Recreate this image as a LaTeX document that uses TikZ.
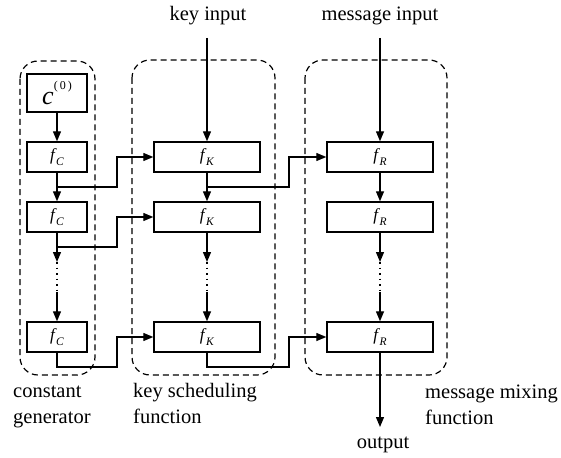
\documentclass[tikz,border=0pt]{standalone}
\usepackage{fontspec}
\setmainfont{Liberation Serif}
\usetikzlibrary{arrows.meta}
\newcommand{\fsub}[1]{\textit{f}\kern-0.5pt\raisebox{-0.28em}{\fontsize{11.5}{12}\selectfont\textit{#1}}}
\begin{document}
\begin{tikzpicture}[x=1pt,y=-1pt,
 blk/.style={draw,line width=1.4pt,minimum width=60pt,minimum height=30pt,inner sep=0pt,font=\fontsize{17}{19}\selectfont},
 wblk/.style={blk,minimum width=106pt},
 grp/.style={draw,dash pattern=on 6pt off 4pt,line width=1.2pt,rounded corners=18pt},
 arr/.style={line width=1.3pt,-{Triangle[length=10pt,width=8pt]}},
 dotl/.style={line width=1.3pt,dash pattern=on 1.5pt off 4pt},
 lbl/.style={font=\fontsize{20.5}{25.5}\selectfont,inner sep=0pt}]
\useasboundingbox (0,0) rectangle (561,457);
% groups
\draw[grp] (20,61) rectangle (95,375);
\draw[grp] (132,60) rectangle (275,375);
\draw[grp] (305,60) rectangle (447,375);
% blocks
\node[blk,minimum height=38pt] (c0) at (57,93) {\fontsize{26}{28}\selectfont\textit{c}\raisebox{0.55em}{\fontsize{12}{13}\selectfont(\,0\,)}};
\node[blk] (fC1) at (57,157) {\fsub{C}};
\node[blk] (fC2) at (57,217) {\fsub{C}};
\node[blk] (fC3) at (57,337) {\fsub{C}};
\node[wblk] (fK1) at (207,157) {\fsub{K}};
\node[wblk] (fK2) at (207,217) {\fsub{K}};
\node[wblk] (fK3) at (207,337) {\fsub{K}};
\node[wblk] (fR1) at (380,157) {\fsub{R}};
\node[wblk] (fR2) at (380,217) {\fsub{R}};
\node[wblk] (fR3) at (380,337) {\fsub{R}};
% inputs and outputs
\node[lbl,anchor=base] (kin) at (208,21) {key input};
\node[lbl,anchor=base] (min) at (380,21) {message input};
\node[lbl,anchor=base] (out) at (383,448) {output};
\coordinate (kins) at (207,38);
\coordinate (mins) at (380,38);
\coordinate (outs) at (380,427);
% group labels
\node[lbl,anchor=base west,align=left] (lc) at (13,423) {constant\\generator};
\node[lbl,anchor=base west,align=left] (lk) at (133,423) {key scheduling\\function};
\node[lbl,anchor=base west,align=left] (lm) at (425,424) {message mixing\\function};
% junction coordinates
\coordinate (j1) at (117,187);
\coordinate (j2) at (117,247);
\coordinate (j3) at (117,367);
\coordinate (k1) at (289,187);
\coordinate (k3) at (289,367);
\coordinate (dCa) at (57,262);
\coordinate (dCb) at (57,292);
\coordinate (dKa) at (207,262);
\coordinate (dKb) at (207,292);
\coordinate (dRa) at (380,262);
\coordinate (dRb) at (380,292);
% vertical flows
\draw[arr] (c0) -- (fC1);
\draw[arr] (fC1) -- (fC2);
\draw[arr] (fC2.south) -- (dCa);
\draw[dotl] (dCa) -- (dCb);
\draw[arr] (dCb) -- (fC3.north);
\draw[arr] (kins) -- (fK1.north);
\draw[arr] (fK1) -- (fK2);
\draw[arr] (fK2.south) -- (dKa);
\draw[dotl] (dKa) -- (dKb);
\draw[arr] (dKb) -- (fK3.north);
\draw[arr] (mins) -- (fR1.north);
\draw[arr] (fR1) -- (fR2);
\draw[arr] (fR2.south) -- (dRa);
\draw[dotl] (dRa) -- (dRb);
\draw[arr] (dRb) -- (fR3.north);
\draw[arr] (fR3.south) -- (outs);
% cross connections
\draw[arr] (fC1.south) |- (j1) |- (fK1.west);
\draw[arr] (fC2.south) |- (j2) |- (fK2.west);
\draw[arr] (fC3.south) |- (j3) |- (fK3.west);
\draw[arr] (fK1.south) |- (k1) |- (fR1.west);
\draw[arr] (fK3.south) |- (k3) |- (fR3.west);
\end{tikzpicture}
\end{document}
